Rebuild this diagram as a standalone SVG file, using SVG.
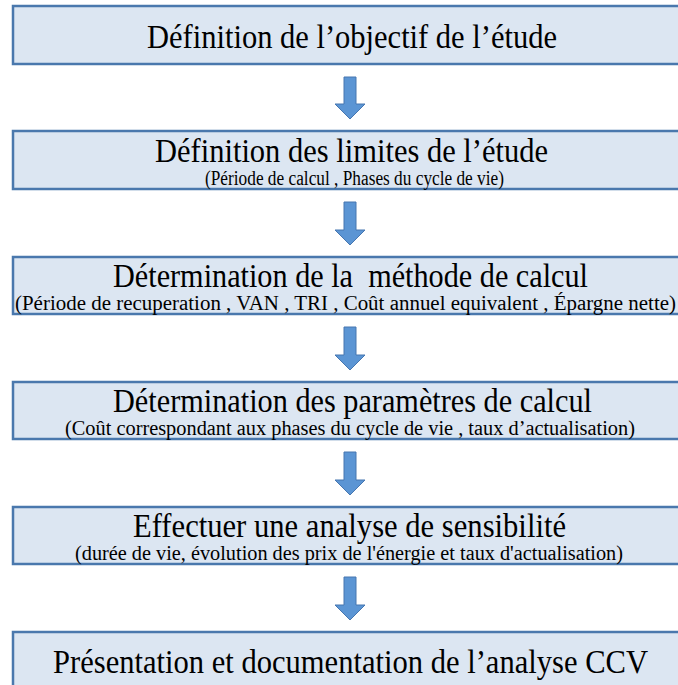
<svg xmlns="http://www.w3.org/2000/svg" width="678" height="685" viewBox="0 0 678 685">
  <style>
    .box { fill: #dce6f2; stroke: #4a78ad; stroke-width: 2.5; }
    .t { font-family: "Liberation Serif", "Times New Roman", serif; fill: #000; }
    .title { font-size: 33px; }
    .sub { font-size: 20.5px; }
    .arrow { fill: #5b95d4; stroke: #4676b0; stroke-width: 1; }
  </style>
  <rect x="0" y="0" width="678" height="685" fill="#ffffff"/>

  <g id="n1">
    <rect class="box" x="13" y="6" width="690" height="58"/>
    <text class="t title" x="147" y="48" textLength="410" lengthAdjust="spacingAndGlyphs">Définition de l’objectif de l’étude</text>
  </g>

  <g id="n2">
    <rect class="box" x="13" y="131" width="690" height="58"/>
    <text class="t title" x="155" y="162" textLength="393" lengthAdjust="spacingAndGlyphs">Définition des limites de l’étude</text>
    <text class="t sub" x="205" y="185" textLength="299" lengthAdjust="spacingAndGlyphs">(Période de calcul , Phases du cycle de vie)</text>
  </g>

  <g id="n3">
    <rect class="box" x="13" y="257" width="690" height="57"/>
    <text class="t title" x="113" y="287" textLength="475" lengthAdjust="spacingAndGlyphs" xml:space="preserve">Détermination de la  méthode de calcul</text>
    <text class="t sub" x="15" y="310" textLength="661" lengthAdjust="spacingAndGlyphs">(Période de recuperation , VAN , TRI , Coût annuel equivalent , Épargne nette)</text>
  </g>

  <g id="n4">
    <rect class="box" x="13" y="382" width="690" height="57"/>
    <text class="t title" x="113" y="412" textLength="479" lengthAdjust="spacingAndGlyphs">Détermination des paramètres de calcul</text>
    <text class="t sub" x="65" y="435" textLength="570" lengthAdjust="spacingAndGlyphs">(Coût correspondant aux phases du cycle de vie , taux d’actualisation)</text>
  </g>

  <g id="n5">
    <rect class="box" x="13" y="507" width="690" height="57"/>
    <text class="t title" x="133" y="537" textLength="433" lengthAdjust="spacingAndGlyphs">Effectuer une analyse de sensibilité</text>
    <text class="t sub" x="75" y="560" textLength="548" lengthAdjust="spacingAndGlyphs">(durée de vie, évolution des prix de l'énergie et taux d'actualisation)</text>
  </g>

  <g id="n6">
    <rect class="box" x="13" y="632" width="690" height="70"/>
    <text class="t title" x="53" y="673" textLength="595" lengthAdjust="spacingAndGlyphs">Présentation et documentation de l’analyse CCV</text>
  </g>

  <g id="connectors">
    <path class="arrow" d="M344,77 H356 V104 H365 L350,119 L335,104 H344 Z"/>
    <path class="arrow" d="M344,202 H356 V230 H365 L350,245 L335,230 H344 Z"/>
    <path class="arrow" d="M344,327 H356 V355 H365 L350,370 L335,355 H344 Z"/>
    <path class="arrow" d="M344,452 H356 V480 H365 L350,495 L335,480 H344 Z"/>
    <path class="arrow" d="M344,577 H356 V605 H365 L350,620 L335,605 H344 Z"/>
  </g>
</svg>
